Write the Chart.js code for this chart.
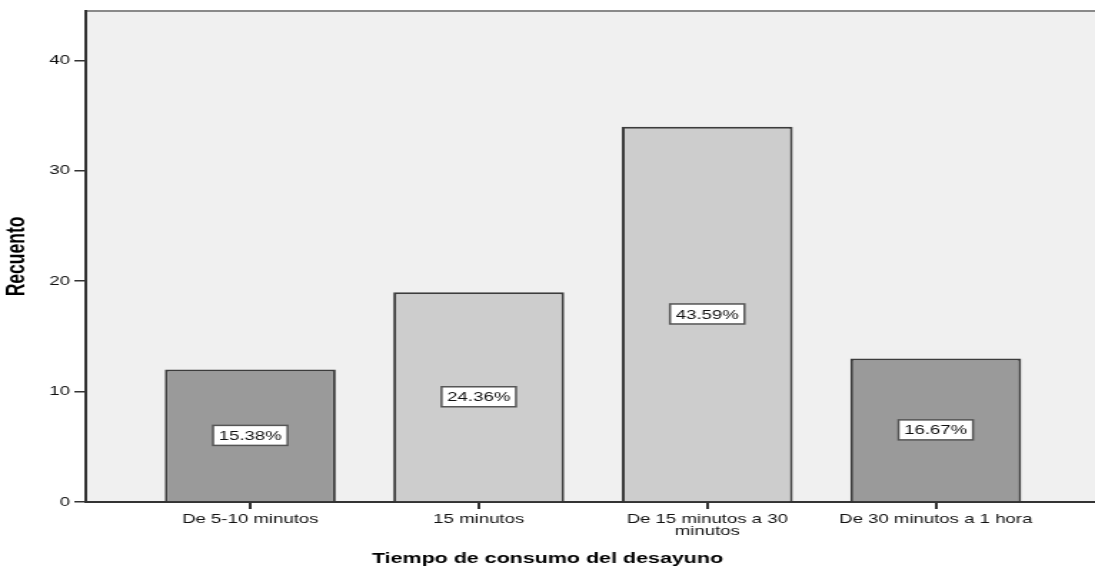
<!DOCTYPE html>
<html>
<head>
<meta charset="utf-8">
<script src="https://cdn.jsdelivr.net/npm/chart.js@4/dist/chart.umd.min.js"></script>
<style>
  html, body { margin: 0; padding: 0; background: #ffffff; overflow: hidden; }
  /* the chart is laid out narrow and widened horizontally, giving the wide lettering */
  #wrap { width: 766px; height: 568px; transform: scaleX(1.4295); transform-origin: 0 0; }
</style>
</head>
<body>
<div id="wrap"><canvas id="chart"></canvas></div>
<script>
// Categories (breakfast duration) and counts
const categories = [
  'De 5-10 minutos',
  '15 minutos',
  ['De 15 minutos a 30', 'minutos'],
  'De 30 minutos a 1 hora'
];
const counts = [12, 19, 34, 13];
const barColors = ['#9a9a9a', '#cdcdcd', '#cdcdcd', '#9a9a9a'];
const yTicks = [0, 10, 20, 30, 40];

const total = counts.reduce((a, b) => a + b, 0);
const FONT = '"Liberation Sans", Arial, sans-serif';

// Fill the plot area with light grey
const plotBackground = {
  id: 'plotBackground',
  beforeDraw(chart) {
    const { ctx, chartArea: a } = chart;
    ctx.save();
    ctx.fillStyle = '#f0f0f0';
    ctx.fillRect(a.left, a.top, a.right - a.left, a.bottom - a.top);
    ctx.restore();
  }
};

// Percentage boxes centred inside each bar
const percentLabels = {
  id: 'percentLabels',
  afterDatasetsDraw(chart) {
    const { ctx } = chart;
    const meta = chart.getDatasetMeta(0);
    ctx.save();
    ctx.font = '13px ' + FONT;
    ctx.textAlign = 'center';
    ctx.textBaseline = 'middle';
    meta.data.forEach((bar, i) => {
      const text = (counts[i] / total * 100).toFixed(2) + '%';
      const cx = bar.x;
      const cy = (bar.y + bar.base) / 2;
      const w = ctx.measureText(text).width + 8;
      const h = 20;
      ctx.fillStyle = '#ffffff';
      ctx.fillRect(cx - w / 2, cy - h / 2, w, h);
      ctx.strokeStyle = '#555555';
      ctx.lineWidth = 1.5;
      ctx.strokeRect(cx - w / 2, cy - h / 2, w, h);
      ctx.fillStyle = '#111111';
      ctx.fillText(text, cx, cy + 1);
    });
    ctx.restore();
  }
};

new Chart(document.getElementById('chart'), {
  type: 'bar',
  data: {
    datasets: [{
      data: counts.map((v, i) => ({ x: i, y: v })),
      backgroundColor: barColors,
      borderColor: '#3c3c3c',
      borderWidth: 2,
      categoryPercentage: 1.0,
      barPercentage: 0.748
    }]
  },
  options: {
    responsive: true,
    maintainAspectRatio: false,
    animation: false,
    layout: { padding: { top: 10, left: 0, right: 0, bottom: 0 } },
    plugins: {
      legend: { display: false },
      tooltip: { enabled: false },
      title: {
        display: true,
        position: 'bottom',
        text: 'Tiempo de consumo del desayuno',
        color: '#000000',
        font: { family: FONT, size: 15, weight: 'bold', lineHeight: 1.2 },
        padding: { top: 3, bottom: 0 }
      }
    },
    scales: {
      x: {
        type: 'linear',
        position: 'bottom',
        offset: false,
        min: -0.72,
        max: 3.697,
        grid: { offset: false, drawOnChartArea: false, drawTicks: true, tickLength: 7, tickColor: '#333333', lineWidth: 2 },
        border: { color: '#333333', width: 2 },
        ticks: {
          stepSize: 1,
          includeBounds: false,
          autoSkip: false,
          maxRotation: 0,
          minRotation: 0,
          padding: 4,
          color: '#111111',
          font: { family: FONT, size: 13, lineHeight: 0.95 },
          callback: (v) => (Number.isInteger(v) && categories[v] !== undefined) ? categories[v] : ''
        },
        afterFit(scale) { scale.height = 45; }
      },
      xTop: {
        type: 'linear',
        position: 'top',
        min: 0,
        max: 1,
        grid: { drawOnChartArea: false, drawTicks: false },
        border: { color: '#8a8a8a', width: 2 },
        ticks: { display: false },
        afterFit(scale) { scale.height = 0; }
      },
      y: {
        type: 'linear',
        min: 0,
        max: 44.5,
        grid: { drawOnChartArea: false, drawTicks: true, tickLength: 8, tickColor: '#333333', lineWidth: 1.5 },
        border: { color: '#333333', width: 2 },
        afterBuildTicks(scale) { scale.ticks = yTicks.map(v => ({ value: v })); },
        ticks: {
          padding: 3,
          color: '#111111',
          font: { family: FONT, size: 13 }
        },
        title: {
          display: true,
          text: 'Recuento',
          color: '#000000',
          font: { family: FONT, size: 17.5, weight: 'bold', lineHeight: 1.2 },
          padding: { top: 2, bottom: 0 }
        },
        afterFit(scale) { scale.width = 60; }
      }
    }
  },
  plugins: [plotBackground, percentLabels]
});
</script>
</body>
</html>
